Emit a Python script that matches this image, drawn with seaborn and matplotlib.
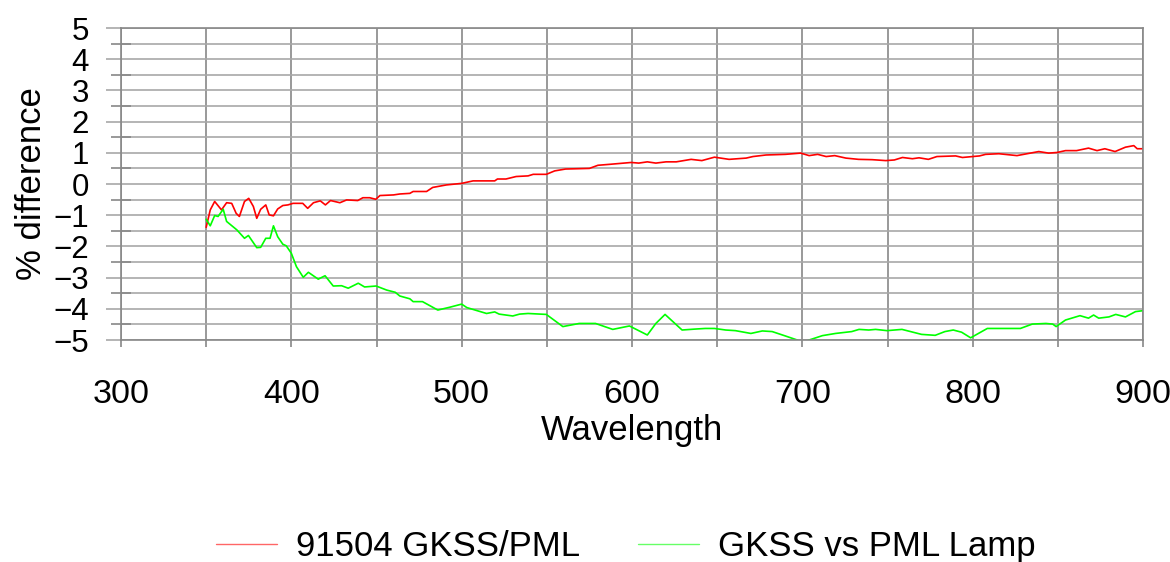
import matplotlib
matplotlib.use("Agg")
import matplotlib.pyplot as plt
from matplotlib.ticker import MultipleLocator
import seaborn as sns
import pandas as pd

red_wl = [350, 352.4, 355, 359, 362, 365, 367.6, 369.5, 372.5, 375, 377.7, 379.7, 382, 385, 387,
          389.5, 392, 395, 398, 401, 406.7, 409.6, 413, 417, 420, 423, 428.5, 432.5, 439, 442, 446,
          449.6, 452, 460, 463.7, 469.6, 471.5, 479.4, 483, 491, 500, 506.7, 519.4, 521, 526, 532,
          539, 542, 549.7, 554.6, 561, 575, 580, 586.8, 599.5, 604, 609, 614, 620, 626, 634.7, 641,
          648.4, 657, 667, 671, 678.7, 690, 699, 704, 709, 714, 719, 725.6, 733, 741, 749, 754,
          758.8, 764.6, 768.5, 774, 779, 790, 794, 804, 807.6, 815.4, 826, 838.8, 844.6, 849.5,
          854.5, 861, 868, 873, 877.6, 883.6, 889.7, 894.6, 896.6, 900]
red_val = [-1.39, -0.83, -0.56, -0.83, -0.6, -0.62, -0.94, -1.04, -0.56, -0.46, -0.72, -1.1, -0.81,
           -0.67, -0.99, -1.02, -0.8, -0.69, -0.67, -0.62, -0.62, -0.78, -0.6, -0.54, -0.67, -0.53,
           -0.6, -0.51, -0.53, -0.44, -0.44, -0.49, -0.37, -0.35, -0.32, -0.3, -0.24, -0.24, -0.11,
           -0.03, 0.02, 0.1, 0.1, 0.16, 0.16, 0.24, 0.26, 0.31, 0.31, 0.42, 0.48, 0.5, 0.6, 0.63,
           0.69, 0.67, 0.71, 0.67, 0.71, 0.71, 0.79, 0.75, 0.86, 0.79, 0.83, 0.88, 0.93, 0.95, 0.99,
           0.91, 0.95, 0.88, 0.91, 0.83, 0.79, 0.78, 0.75, 0.77, 0.85, 0.81, 0.84, 0.79, 0.88, 0.9,
           0.85, 0.9, 0.95, 0.97, 0.91, 1.04, 0.99, 1.01, 1.07, 1.07, 1.15, 1.07, 1.13, 1.04, 1.18,
           1.23, 1.13, 1.13]

green_wl = [350, 352.4, 355, 357, 360, 362, 368, 372.5, 374.8, 379.7, 382, 385, 387.5, 389.5, 392,
            395, 397, 400, 403, 407, 410, 415.8, 417.6, 419.8, 424.6, 429.5, 433.4, 439.3, 443,
            449.8, 456, 461, 463.7, 469.6, 471.5, 477, 486, 493, 500, 503, 514.6, 519.4, 522, 530,
            534, 539, 549.7, 559.4, 569, 578.6, 588.7, 598.5, 609, 614, 619.4, 629.4, 637, 643,
            648.4, 655, 660.7, 669.8, 676.5, 682.3, 690, 697, 700, 704, 711.8, 719.5, 729, 733.3,
            739, 743, 749.7, 758.5, 770, 778, 783.7, 788.6, 793.5, 798.8, 808.6, 815.4, 828, 835,
            843, 847, 849, 854.5, 863, 868, 871, 874, 880, 884, 889.7, 895.6, 900]
green_val = [-1.13, -1.34, -1.01, -1.04, -0.81, -1.2, -1.47, -1.74, -1.65, -2.04, -2.03, -1.74,
             -1.74, -1.34, -1.69, -1.93, -1.98, -2.22, -2.65, -2.99, -2.83, -3.05, -3.0, -2.94,
             -3.27, -3.26, -3.34, -3.18, -3.3, -3.27, -3.4, -3.47, -3.59, -3.68, -3.77, -3.77,
             -4.04, -3.95, -3.85, -3.96, -4.15, -4.1, -4.17, -4.23, -4.17, -4.15, -4.18, -4.57,
             -4.47, -4.47, -4.66, -4.55, -4.84, -4.47, -4.18, -4.68, -4.65, -4.63, -4.63, -4.68,
             -4.7, -4.79, -4.71, -4.73, -4.87, -5.0, -5.1, -5.0, -4.86, -4.79, -4.73, -4.66, -4.68,
             -4.66, -4.7, -4.66, -4.82, -4.85, -4.73, -4.68, -4.75, -4.93, -4.63, -4.63, -4.63,
             -4.49, -4.47, -4.49, -4.57, -4.36, -4.22, -4.3, -4.2, -4.3, -4.26, -4.18, -4.26, -4.09,
             -4.06]

series_names = ["91504 GKSS/PML", "GKSS vs PML Lamp"]
series_colors = ["#ff0000", "#00ff00"]

df = pd.concat([
    pd.DataFrame({"Wavelength": red_wl, "val": red_val, "series": series_names[0]}),
    pd.DataFrame({"Wavelength": green_wl, "val": green_val, "series": series_names[1]}),
], ignore_index=True)

sns.set_style("white")
plt.rcParams["font.family"] = ["Liberation Sans", "DejaVu Sans"]
plt.rcParams["text.color"] = "black"
plt.rcParams["axes.labelcolor"] = "black"
plt.rcParams["xtick.labelcolor"] = "black"
plt.rcParams["ytick.labelcolor"] = "black"

fig = plt.figure(figsize=(11.7, 5.62), dpi=100)
ax = fig.add_axes([121 / 1170, 1 - 340 / 562, (1143 - 121) / 1170, (340 - 28) / 562])

sns.lineplot(data=df, x="Wavelength", y="val", hue="series", palette=series_colors,
             hue_order=series_names, linewidth=1.2, ax=ax, legend=False, sort=False,
             estimator=None)

ax.set_xlim(300, 900)
ax.set_ylim(-5, 5)
ax.xaxis.set_major_locator(MultipleLocator(100))
ax.xaxis.set_minor_locator(MultipleLocator(50))
ax.yaxis.set_major_locator(MultipleLocator(1))
ax.yaxis.set_minor_locator(MultipleLocator(0.5))

ax.grid(True, which="both", axis="y", color="#a8a8a8", linewidth=1.2)
ax.grid(True, which="both", axis="x", color="#888888", linewidth=1.2)
ax.set_axisbelow(True)
for s in ax.spines.values():
    s.set_color("#888888")
    s.set_linewidth(1.2)

ax.tick_params(axis="y", which="major", direction="out", length=11, width=1.2, color="#a8a8a8",
               labelsize=22.5, pad=12, left=True, labelcolor="black")
ax.tick_params(axis="y", which="minor", direction="inout", length=15, width=1.2, color="#888888",
               left=True)
ax.tick_params(axis="x", which="both", direction="out", length=5, width=1.2, color="#888888",
               labelsize=24.5, pad=23, bottom=True, labelcolor="black")

ax.set_xlabel("Wavelength", fontsize=25, labelpad=3, color="black")
ax.set_ylabel("% difference", fontsize=25, labelpad=4, color="black")

handles = [plt.Line2D([], [], color=c, linewidth=1.0, alpha=0.6) for c in series_colors]
fig.legend(handles, series_names, loc="lower center", bbox_to_anchor=(0.535, -0.057), ncol=2,
           frameon=False, fontsize=25, handlelength=1.75, columnspacing=1.68, handletextpad=0.55,
           labelcolor="black")

fig.savefig("out.png", dpi=100)
